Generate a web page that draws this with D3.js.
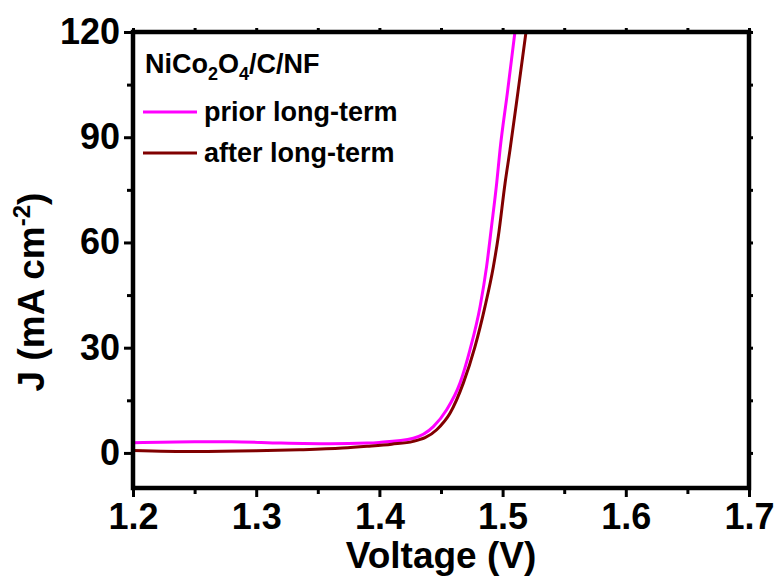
<!DOCTYPE html>
<html>
<head>
<meta charset="utf-8">
<script src="https://cdn.jsdelivr.net/npm/d3@7"></script>
<style>
  body { margin: 0; background: #fff; }
  svg { font-family: "Liberation Sans", Arial, sans-serif; font-weight: bold; }
</style>
</head>
<body>
<div id="chart"></div>
<script>
// Data (voltage in V, current density in mA cm^-2)
const priorV = [1.20, 1.25, 1.28, 1.32, 1.36, 1.39, 1.40, 1.4275, 1.4438, 1.4546, 1.4654, 1.4735, 1.4817, 1.487, 1.491, 1.4952, 1.4979, 1.504, 1.510];
const priorJ = [2.9, 3.2, 3.2, 2.8, 2.6, 2.8, 3.0, 4.2, 7.5, 12.3, 19.9, 29.4, 41.7, 53.1, 64.5, 76.9, 86.4, 103, 120];
const afterV = [1.20, 1.25, 1.30, 1.335, 1.37, 1.39, 1.41, 1.4275, 1.4465, 1.4573, 1.4681, 1.4776, 1.4857, 1.4925, 1.4965, 1.502, 1.506, 1.5125, 1.519];
const afterJ = [0.7, 0.4, 0.6, 0.9, 1.4, 1.9, 2.5, 3.3, 6.6, 11.3, 19.9, 30.3, 41.7, 53.1, 61.7, 76.9, 86.4, 103, 120];
const seriesNames = ['prior long-term', 'after long-term'];
const seriesColors = ['#ff00ff', '#800000'];
const xTicks = [1.2, 1.3, 1.4, 1.5, 1.6, 1.7];
const yTicks = [0, 30, 60, 90, 120];

const W = 781, H = 585;
const margin = { top: 32, right: 32, bottom: 97, left: 133 };
const width = W - margin.left - margin.right;
const height = H - margin.top - margin.bottom;

const svg = d3.select('#chart').append('svg')
    .attr('width', W)
    .attr('height', H);

const g = svg.append('g')
    .attr('transform', `translate(${margin.left}, ${margin.top})`);

const xScale = d3.scaleLinear().domain([1.2, 1.7]).range([0, width]);
const yScale = d3.scaleLinear().domain([-10, 120]).range([height, 0]);

const xMinor = d3.range(1.25, 1.7, 0.1);
const yMinor = d3.range(15, 120, 30);

// Clip for curves
g.append('clipPath').attr('id', 'clip')
    .append('rect').attr('width', width).attr('height', height);

// Curves
const series = [
    { v: priorV, j: priorJ },
    { v: afterV, j: afterJ }
];
const line = d3.line()
    .x(d => xScale(d[0]))
    .y(d => yScale(d[1]))
    .curve(d3.curveMonotoneX);

series.forEach((s, i) => {
    g.append('path')
        .datum(s.v.map((v, k) => [v, s.j[k]]))
        .attr('clip-path', 'url(#clip)')
        .attr('fill', 'none')
        .attr('stroke', seriesColors[i])
        .attr('stroke-width', 3)
        .attr('d', line);
});

// Axes
const fmtX = d3.format('.1f');
const axisStyle = (sel, size) => {
    sel.select('.domain').remove();
    sel.selectAll('.tick line').attr('stroke', '#000').attr('stroke-width', 3);
    sel.selectAll('.tick text')
        .attr('font-size', size)
        .attr('font-weight', 'bold')
        .attr('fill', '#000')
        .attr('font-family', '"Liberation Sans", Arial, sans-serif');
};

g.append('g')
    .attr('transform', `translate(0, ${height})`)
    .call(d3.axisBottom(xScale).tickValues(xTicks).tickFormat(fmtX).tickSize(9).tickPadding(6))
    .call(sel => axisStyle(sel, 36));
g.append('g')
    .attr('transform', `translate(0, ${height})`)
    .call(d3.axisBottom(xScale).tickValues(xMinor).tickFormat('').tickSize(6))
    .call(sel => axisStyle(sel, 36));

g.append('g')
    .call(d3.axisLeft(yScale).tickValues(yTicks).tickSize(9).tickPadding(4))
    .call(sel => axisStyle(sel, 36));
g.append('g')
    .call(d3.axisLeft(yScale).tickValues(yMinor).tickFormat('').tickSize(6))
    .call(sel => axisStyle(sel, 36));

// small ticks on top and right
g.append('g')
    .call(d3.axisTop(xScale).tickValues(xTicks.concat(xMinor)).tickFormat('').tickSize(4))
    .call(sel => axisStyle(sel, 36));
g.append('g')
    .attr('transform', `translate(${width}, 0)`)
    .call(d3.axisRight(yScale).tickValues(yTicks.concat(yMinor)).tickFormat('').tickSize(4))
    .call(sel => axisStyle(sel, 36));

// Frame
g.append('rect')
    .attr('width', width)
    .attr('height', height)
    .attr('fill', 'none')
    .attr('stroke', '#000')
    .attr('stroke-width', 4.5);

// Axis titles
svg.append('text')
    .attr('x', margin.left + width / 2)
    .attr('y', 568)
    .attr('text-anchor', 'middle')
    .attr('font-size', 37)
    .text('Voltage (V)');

const yTitle = svg.append('text')
    .attr('transform', 'translate(44, 292) rotate(-90)')
    .attr('text-anchor', 'middle')
    .attr('font-size', 37);
yTitle.append('tspan').text('J (mA cm');
yTitle.append('tspan').attr('font-size', 24).attr('dy', -14).text('-2');
yTitle.append('tspan').attr('dy', 14).text(')');

// Legend
const lg = svg.append('g').attr('font-size', 27);
const title = lg.append('text').attr('x', 145).attr('y', 73);
title.append('tspan').text('NiCo');
title.append('tspan').attr('font-size', 18).attr('dy', 7).text('2');
title.append('tspan').attr('dy', -7).text('O');
title.append('tspan').attr('font-size', 18).attr('dy', 7).text('4');
title.append('tspan').attr('dy', -7).text('/C/NF');

seriesNames.forEach((name, i) => {
    const y = 112 + i * 41;
    lg.append('line')
        .attr('x1', 143).attr('x2', 197)
        .attr('y1', y).attr('y2', y)
        .attr('stroke', seriesColors[i])
        .attr('stroke-width', 3);
    lg.append('text')
        .attr('x', 204)
        .attr('y', y + 9)
        .text(name);
});
</script>
</body>
</html>
